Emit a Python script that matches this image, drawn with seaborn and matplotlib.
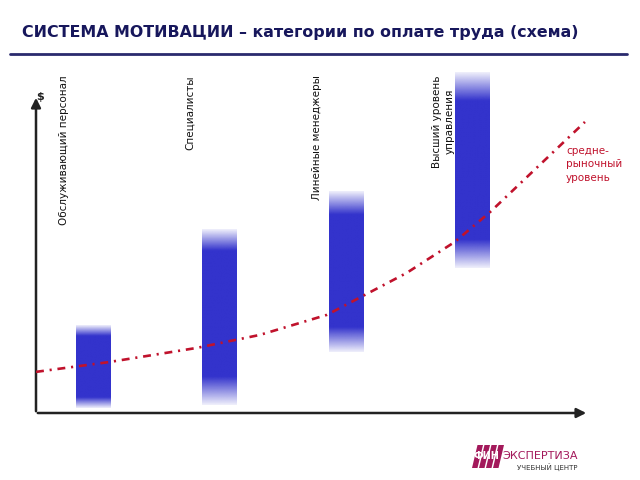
import numpy as np
import matplotlib.pyplot as plt
import seaborn as sns
from matplotlib.patches import Polygon

# категории и уровни оплаты (условные единицы, 0..100)
categories = ["Обслуживающий персонал", "Специалисты", "Линейные менеджеры",
              "Высший уровень\nуправления"]
bar_low = [1.1, 2.0, 17.0, 41.0]
bar_high = [24.4, 52.0, 62.5, 96.6]
fade_low = [3.0, 8.0, 7.0, 8.0]
fade_high = [3.0, 6.0, 6.5, 8.0]

# среднерыночный уровень
market_x = [-0.45, 0.13, 0.82, 1.32, 1.85, 2.48, 2.86, 3.14, 3.89]
market_y = [11.4, 14.2, 18.2, 21.9, 27.6, 39.5, 48.3, 56.8, 82.4]

title = "СИСТЕМА МОТИВАЦИИ – категории по оплате труда (схема)"
market_label = "средне-\nрыночный\nуровень"

blue = (0.20, 0.20, 0.80)
red = "#C0122C"
navy = "#17175C"
magenta = "#A3195B"

sns.set_style("white")
plt.rcParams['font.family'] = ['DejaVu Sans']

fig = plt.figure(figsize=(6.4, 4.8), dpi=100)

# фон-оверлей в пикселях для оформления
deco = fig.add_axes([0, 0, 1, 1])
deco.set_xlim(0, 640)
deco.set_ylim(480, 0)
deco.axis("off")

ax = fig.add_axes([36 / 640, (480 - 412) / 480, (590 - 36) / 640, (412 - 60) / 480])
ax.patch.set_alpha(0)

width = 0.27
for i, (lo, hi, fl, fh) in enumerate(zip(bar_low, bar_high, fade_low, fade_high)):
    yy = np.linspace(lo, hi, 300)
    alpha = np.ones_like(yy)
    alpha = np.minimum(alpha, 0.08 + 0.92 * np.clip((yy - lo) / fl, 0, 1))
    alpha = np.minimum(alpha, 0.08 + 0.92 * np.clip((hi - yy) / fh, 0, 1))
    img = np.zeros((len(yy), 1, 4))
    img[:, 0, 0], img[:, 0, 1], img[:, 0, 2] = blue
    img[:, 0, 3] = alpha
    ax.imshow(img, extent=[i - width / 2, i + width / 2, lo, hi], origin="lower",
              aspect="auto", interpolation="bilinear", zorder=2)
    ax.text(i - 0.23, 95.7, categories[i], rotation=90, ha="center", va="top",
            fontsize=7.5, color="#111111", linespacing=1.3)

sns.lineplot(x=market_x, y=market_y, sort=False, ax=ax, color=red, lw=1.9,
             linestyle=(0, (3.0, 2.2, 0.8, 2.2)), zorder=3)
ax.text(3.74, 75.5, market_label, color=red, fontsize=7.5, ha="left", va="top",
        linespacing=1.4)

ax.set_xlim(-0.45, 3.93)
ax.set_ylim(0, 100)
ax.set_xticks([])
ax.set_yticks([])
sns.despine(ax=ax, left=True, bottom=True)

# оси со стрелками
deco.annotate("", xy=(589, 413), xytext=(35, 413),
              arrowprops=dict(arrowstyle="-|>", lw=1.8, color="#222222", mutation_scale=14))
deco.annotate("", xy=(36, 95), xytext=(36, 414),
              arrowprops=dict(arrowstyle="-|>", lw=1.8, color="#222222", mutation_scale=14))
deco.text(40, 97, "$", fontsize=8, fontweight="bold", ha="center", va="center", color="#222222")

# заголовок
deco.text(22, 32, title, fontsize=11.4, fontweight="bold", color=navy, ha="left", va="center")
deco.plot([10, 627], [54, 54], color="#2A2A6E", lw=2)

# логотип
for k in range(4):
    x0 = 472 + k * 7
    deco.add_patch(Polygon([[x0, 468], [x0 + 5.5, 468], [x0 + 11, 445], [x0 + 5.5, 445]],
                           closed=True, color=magenta, lw=0))
deco.text(474, 456, "ФИН", fontsize=7, color="white", fontweight="bold", ha="left", va="center")
deco.text(502, 456, "ЭКСПЕРТИЗА", fontsize=8, color=magenta, ha="left", va="center")
deco.text(517, 467, "УЧЕБНЫЙ ЦЕНТР", fontsize=5, color="#333333", ha="left", va="center")

fig.savefig("out.png", dpi=100)
